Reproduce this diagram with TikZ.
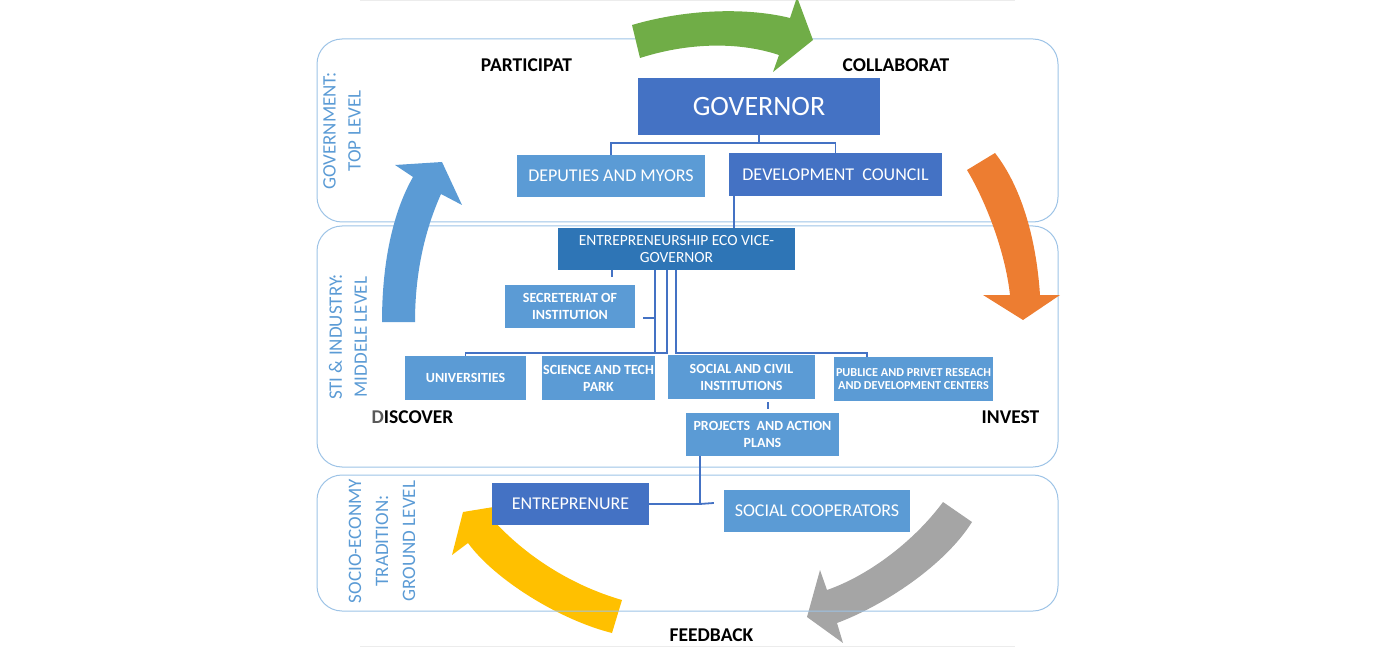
\documentclass[tikz,border=0pt]{standalone}
\usepackage{fontspec}
\setmainfont{Carlito}
\usepackage{xcolor}
\usepackage{tikz}
\usetikzlibrary{positioning,calc}
\definecolor{darkblue}{HTML}{4472C4}
\definecolor{midblue}{HTML}{2E75B6}
\definecolor{lightblue}{HTML}{5B9BD5}
\definecolor{bandline}{HTML}{9DC3E6}
\definecolor{arrgreen}{HTML}{70AD47}
\definecolor{arrorange}{HTML}{ED7D31}
\definecolor{arrgray}{HTML}{A5A5A5}
\definecolor{arryellow}{HTML}{FFC000}

\begin{document}
\begin{tikzpicture}[x=1pt, y=-1pt,
  box/.style={inner sep=0pt, align=center, text=white},
  big/.style={font=\fontsize{18}{20}\selectfont},
  small/.style={font=\fontsize{14}{17}\bfseries},
  link/.style={draw=darkblue, line width=1.8pt},
  band/.style={draw=bandline, line width=1pt, rounded corners=25pt},
  level/.style={rotate=90, align=center, text=lightblue,
    font=\fontsize{19}{25}\selectfont},
  stage/.style={font=\fontsize{19.5}{22}\bfseries}
]
\useasboundingbox (0,0) rectangle (1376,647);
\draw[gray!15, line width=1pt] (360,1) -- (1015,1);
\draw[gray!15, line width=1pt] (360,646) -- (1015,646);

% Levels
\draw[band] (317,39) rectangle (1058,222);
\draw[band] (317,226) rectangle (1058,467);

% Cycle arrows
\fill[arrgreen] (632,25) .. controls (690,8) and (750,8) .. (790,18)
  -- (797,-3) -- (813,40) -- (773,72) -- (779,55)
  .. controls (740,42) and (690,42) .. (640,58) -- cycle;
\fill[arrorange] (967,170) .. controls (985,200) and (1005,250) .. (1010,295)
  -- (983,295) -- (1023,320) -- (1060,295) -- (1040,295)
  .. controls (1036,235) and (1020,185) .. (995,153) -- cycle;
\fill[arrgray] (943,502) .. controls (915,540) and (870,575) .. (827,590)
  -- (820,570) -- (807,617) -- (843,643) -- (837,623)
  .. controls (885,605) and (945,565) .. (972,522) -- cycle;
\fill[arryellow] (622,600) -- (612,633)
  .. controls (560,620) and (495,580) .. (468,543)
  -- (452,555) -- (463,512) -- (512,504) -- (494,521)
  .. controls (525,555) and (570,585) .. (622,600) -- cycle;
\fill[lightblue] (382,322) .. controls (382,262) and (393,212) .. (413,177)
  -- (395,165) -- (442,162) -- (462,205) -- (441,194)
  .. controls (424,232) and (415,275) .. (415,322) -- cycle;

\draw[band] (317,475) rectangle (1058,611);

\node[level] (top) at (342,131) {GOVERNMENT:\\TOP LEVEL};
\node[level] (mid) at (348,337) {STI \& INDUSTRY:\\MIDDELE LEVEL};
\node[level, font=\fontsize{19}{27}\selectfont] (ground) at (382,541)
  {SOCIO-ECONMY\\TRADITION:\\GROUND LEVEL};

\node[stage] (part) at (526.5,65) {PARTICIPAT};
\node[stage] (coll) at (896,65) {COLLABORAT};
\node[stage] (disc) at (412.5,417) {{\color{black!65}D}ISCOVER};
\node[stage] (inv) at (1010.5,417.5) {INVEST};
\node[stage] (feed) at (711.5,635) {FEEDBACK};

% Chart
\node[box, fill=darkblue, minimum width=242pt, minimum height=57pt,
  font=\fontsize{28}{30}\selectfont] (gov) at (759,106.5) {GOVERNOR};
\node[box, big, fill=lightblue, minimum width=188pt, minimum height=42pt]
  (dep) at (611,176) {DEPUTIES AND MYORS};
\node[box, big, fill=darkblue, minimum width=213pt, minimum height=43pt]
  (dev) at (835.5,174.5) {DEVELOPMENT\ \ COUNCIL};
\node[box, fill=midblue, minimum width=237pt, minimum height=42pt,
  font=\fontsize{15.5}{17}\selectfont]
  (vice) at (676.5,249) {ENTREPRENEURSHIP ECO VICE-\\GOVERNOR};
\node[box, small, fill=lightblue, minimum width=130pt, minimum height=43pt]
  (sec) at (570,306.5) {SECRETERIAT OF\\INSTITUTION};
\node[box, small, fill=lightblue, minimum width=121pt, minimum height=44pt]
  (uni) at (465.5,378) {UNIVERSITIES};
\node[box, small, fill=lightblue, minimum width=113pt, minimum height=44pt]
  (sci) at (598.5,378) {SCIENCE AND TECH\\PARK};
\node[box, small, fill=lightblue, minimum width=147pt, minimum height=44pt]
  (soc) at (741.5,377) {SOCIAL AND CIVIL\\INSTITUTIONS};
\node[box, fill=lightblue, minimum width=159pt, minimum height=44pt,
  font=\fontsize{12.2}{13}\bfseries]
  (pub) at (913.5,379) {PUBLICE AND PRIVET RESEACH\\AND DEVELOPMENT CENTERS};
\node[box, small, fill=lightblue, minimum width=153pt, minimum height=43pt]
  (proj) at (762.5,434.5) {PROJECTS\ \ AND ACTION\\PLANS};
\node[box, big, fill=darkblue, minimum width=157pt, minimum height=42pt]
  (ent) at (570.5,504) {ENTREPRENURE};
\node[box, big, fill=lightblue, minimum width=186pt, minimum height=42pt]
  (coop) at (817,511) {SOCIAL COOPERATORS};

% Links
\draw[link] (gov.south) -- ++(0,8);
\draw[link] (dep.north) -- ++(0,-12) -| (dev.north);
\draw[link] ([xshift=5pt]dev.south west) -- ([xshift=5pt]dev.south west |- vice.north);
\draw[link] ([xshift=54pt]vice.south west) -- ++(0,7);
\draw[link] ([xshift=97pt]vice.south west) -- ++(0,83);
\draw[link] ([xshift=8pt,yshift=-11.5pt]sec.east) -- ++(12,0);
\draw[link] ([xshift=109pt]vice.south west) -- ++(0,83) -| (uni.north);
\draw[link] ([xshift=118pt]vice.south west) -- ++(0,83) -| ([xshift=33pt]pub.north west);
\draw[link] ([xshift=26.5pt,yshift=-3pt]soc.south) -- ++(0,7);
\draw[link] ([xshift=14pt]proj.south west) |- (ent.east);
\draw[link] ([xshift=14pt]proj.south west |- ent.east) -- ++(14,-1);
\end{tikzpicture}
\end{document}
